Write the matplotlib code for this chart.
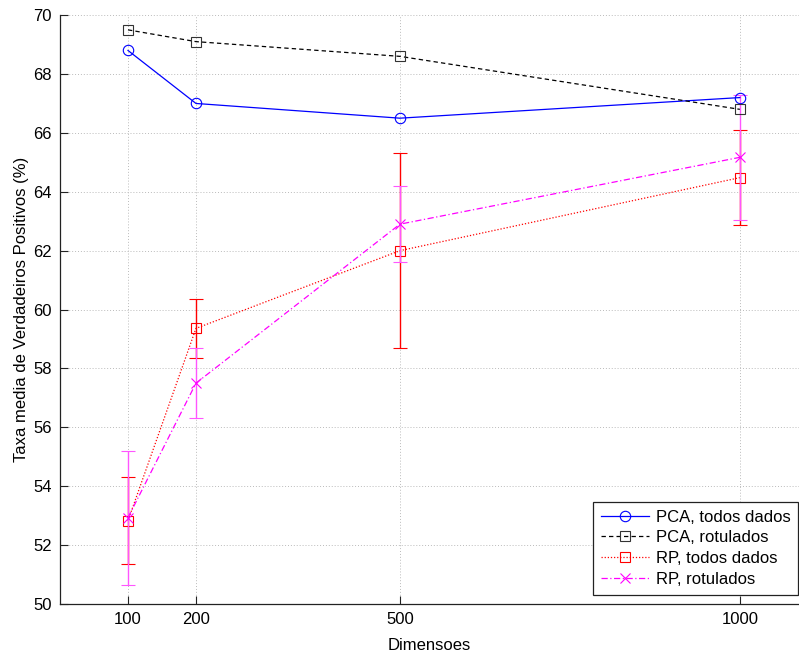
import matplotlib
matplotlib.use("Agg")
import matplotlib.pyplot as plt
from matplotlib.lines import Line2D

dims = [100, 200, 500, 1000]
pca_todos = [68.8, 67.0, 66.5, 67.2]
pca_rot = [69.5, 69.1, 68.6, 66.8]
rp_todos = [52.83, 59.36, 62.0, 64.48]
rp_todos_err = [1.47, 1.0, 3.31, 1.62]
rp_rot = [52.93, 57.5, 62.9, 65.17]
rp_rot_err = [2.27, 1.18, 1.3, 2.13]

xticks = [100, 200, 500, 1000]
yticks = [50, 52, 54, 56, 58, 60, 62, 64, 66, 68, 70]
labels = ['PCA, todos dados', 'PCA, rotulados', 'RP, todos dados', 'RP, rotulados']

plt.rcParams['font.family'] = ['Liberation Sans', 'DejaVu Sans']

fig = plt.figure(figsize=(7.99, 6.55), dpi=100)
ax = fig.add_axes([0.0751, 0.0779, 0.9249, 0.899])

styles = [
    dict(color='blue', linestyle='-', linewidth=0.9, marker='o', markersize=7.5,
         markerfacecolor='none', markeredgecolor='blue', markeredgewidth=0.8),
    dict(color='black', linestyle=(0, (3.5, 2.5)), linewidth=0.9, marker='s',
         markersize=6.5, markerfacecolor='none', markeredgecolor='#333333',
         markeredgewidth=0.8),
    dict(color='red', linestyle=(0, (1, 1.5)), linewidth=0.9, marker='s',
         markersize=6.5, markerfacecolor='none', markeredgecolor='red',
         markeredgewidth=0.8),
    dict(color='magenta', linestyle=(0, (5, 2, 1, 2)), linewidth=0.9, marker='x',
         markersize=7, markeredgewidth=0.8),
]

ax.plot(dims, pca_todos, zorder=4, **styles[0])
ax.plot(dims, pca_rot, zorder=4, **styles[1])
ax.errorbar(dims, rp_todos, yerr=rp_todos_err, ecolor='red', elinewidth=1.0,
            capsize=5, capthick=1.0, zorder=3, **styles[2])
ax.errorbar(dims, rp_rot, yerr=rp_rot_err, ecolor='#ff55ff', elinewidth=1.0,
            capsize=5, capthick=1.0, zorder=3.5, **styles[3])

ax.set_xlim(0, 1087)
ax.set_ylim(50, 70)
ax.set_xticks(xticks)
ax.set_yticks(yticks)
ax.tick_params(direction='in', length=6, width=0.8, labelsize=12, colors='#222222',
               labelcolor='black', pad=6)
ax.grid(True, linestyle=(0, (1, 2)), color='#bbbbbb', linewidth=0.7)
ax.set_axisbelow(True)
for s in ['top', 'right']:
    ax.spines[s].set_visible(False)
for s in ['left', 'bottom']:
    ax.spines[s].set_linewidth(0.9)
    ax.spines[s].set_color('#222222')

ax.set_xlabel('Dimensoes', fontsize=12, labelpad=8)
ax.set_ylabel('Taxa media de Verdadeiros Positivos (%)', fontsize=12, labelpad=3)

handles = [Line2D([0], [0], **st) for st in styles]
leg = fig.legend(handles, labels, loc='upper left', bbox_to_anchor=(593 / 799, 1 - 502 / 655),
                 fontsize=12, frameon=True, fancybox=False, edgecolor='#222222',
                 framealpha=1, handlelength=2.9, handletextpad=0.4, labelspacing=0.35,
                 borderpad=0.45, borderaxespad=0, numpoints=1)
leg.get_frame().set_linewidth(0.9)

fig.savefig('out.png', dpi=100)
